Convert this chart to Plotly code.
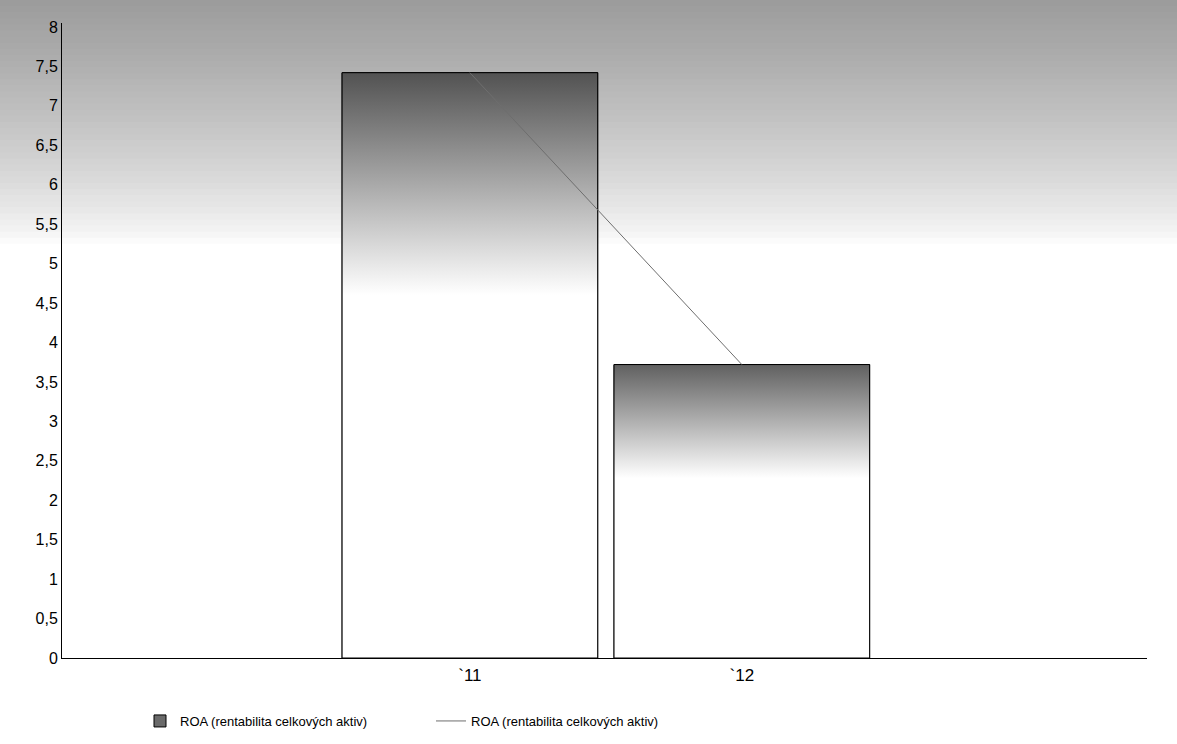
import plotly.graph_objects as go

# ---- data ----
categories = ["`11", "`12"]
x_pos = [1, 2]
roa = [7.42, 3.72]
fade_start = [4.6, 2.28]  # level below which the bar shading turns white
series_name = "ROA (rentabilita celkových aktiv)"
bar_width = 0.94

Y_MAX = 8.05
L, R, T, B = 62, 30, 23, 86
PW = 1177 - L - R
PH = 744 - T - B

fig = go.Figure()

# bar (drawn by the library; gives the legend swatch)
fig.add_trace(go.Bar(
    x=x_pos, y=roa, width=bar_width, name=series_name,
    marker=dict(color="#6a6a6a", line=dict(color="black", width=1)),
))

# gradient shading over each bar
top_colors = ["#525252", "#606060"]
for c, v, fs, tc in zip(x_pos, roa, fade_start, top_colors):
    h = bar_width / 2
    fig.add_trace(go.Scatter(
        x=[c - h, c + h, c + h, c - h, c - h],
        y=[0, 0, v, v, 0],
        mode="lines", fill="toself",
        line=dict(color="black", width=1),
        fillgradient=dict(type="vertical", start=fs, stop=v,
                          colorscale=[[0, "#ffffff"], [1, tc]]),
        showlegend=False, hoverinfo="skip",
    ))

# line series
fig.add_trace(go.Scatter(
    x=x_pos, y=roa, mode="lines", name=series_name,
    line=dict(color="#6e6e6e", width=1),
))

# background gradient at top (stepped shapes)
y_lo = 5.25 / Y_MAX
y_hi = 1 + T / PH
n = 40
shapes = []
for i in range(n):
    t0 = i / n
    t1 = (i + 1) / n
    tm = (t0 + t1) / 2
    g = int(round(255 - 100 * tm ** 0.75))
    shapes.append(dict(
        type="rect", xref="paper", yref="paper", layer="below",
        x0=-L / PW, x1=1 + R / PW,
        y0=y_lo + (y_hi - y_lo) * t0, y1=y_lo + (y_hi - y_lo) * t1 + 0.002,
        fillcolor=f"rgb({g},{g},{g})", line=dict(width=0),
    ))

fig.update_layout(
    width=1177, height=744, autosize=False,
    margin=dict(l=L, r=R, t=T, b=B),
    paper_bgcolor="white", plot_bgcolor="rgba(0,0,0,0)",
    separators=", ",
    font=dict(family="Liberation Sans, Arial, sans-serif", size=14, color="black"),
    shapes=shapes,
    xaxis=dict(range=[-0.5, 3.49], tickvals=x_pos, ticktext=categories,
               showline=True, linecolor="black", linewidth=1,
               showgrid=False, zeroline=False, ticks="",
               tickfont=dict(size=17), ticklabelstandoff=2),
    yaxis=dict(range=[0, Y_MAX], dtick=0.5, tick0=0,
               showline=True, linecolor="black", linewidth=1,
               showgrid=False, zeroline=False, ticks="",
               tickfont=dict(size=16)),
    legend=dict(orientation="h", x=(140 - L) / PW, xanchor="left",
                yref="container", y=1 - 706 / 744, yanchor="top",
                entrywidth=246, entrywidthmode="pixels",
                font=dict(size=13), bgcolor="rgba(0,0,0,0)"),
    showlegend=True,
)

fig.write_html("out.html")
